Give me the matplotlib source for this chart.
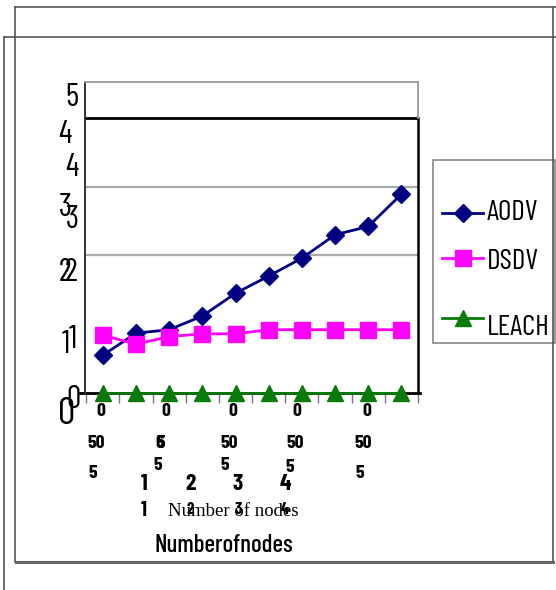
import numpy as np
import matplotlib
matplotlib.use("Agg")
import matplotlib.pyplot as plt
from matplotlib.lines import Line2D
from matplotlib.patches import Rectangle

# series (index of node count along x)
x_idx = [1, 2, 3, 4, 5, 6, 7, 8, 9, 10]
aodv = [0.55, 0.87, 0.92, 1.12, 1.45, 1.70, 1.96, 2.30, 2.42, 2.89]
dsdv = [0.84, 0.71, 0.82, 0.86, 0.86, 0.92, 0.92, 0.92, 0.92, 0.92]
leach = [0, 0, 0, 0, 0, 0, 0, 0, 0, 0]
series = ['AODV', 'DSDV', 'LEACH']

# tick labels as they appear (overprinted / garbled in the original)
ytick_txt = ['5', '4', '4', '3', '3', '2', '2', '1', '1', '0', '0']
xtick_row1 = ['0', '0', '0', '0', '0']
xtick_row2 = ['50', '6', '50', '50', '50']
xtick_row3 = ['5', '5', '5', '5', '5']
xtick_row4 = ['1', '2', '3', '4']

W, H = 556, 590
NARROW = 'Barlow Condensed'


def fx(px):
    return px / W


def fy(py):
    return 1 - py / H


fig = plt.figure(figsize=(W / 100, H / 100), dpi=100)

# outer frames
frame = dict(color='#555555', lw=1.2, transform=fig.transFigure)
fig.add_artist(Line2D([fx(15), fx(556)], [fy(7), fy(7)], **frame))
fig.add_artist(Line2D([fx(4), fx(556)], [fy(37), fy(37)], **frame))
fig.add_artist(Line2D([fx(15), fx(15)], [fy(7), fy(562)], **frame))
fig.add_artist(Line2D([fx(4), fx(4)], [fy(37), fy(590)], **frame))
fig.add_artist(Line2D([fx(553), fx(553)], [fy(7), fy(562)], **frame))
fig.add_artist(Line2D([fx(16), fx(553)], [fy(562), fy(562)], color='#666666', lw=2.2,
                      transform=fig.transFigure))

ax = fig.add_axes([fx(85), fy(393), fx(418) - fx(85), fy(82) - fy(393)])
ax.set_xlim(0.46, 10.5)
ax.set_ylim(0, 4.52)

for s in ['top', 'right', 'bottom', 'left']:
    ax.spines[s].set_visible(False)
ax.spines['top'].set_visible(True)
ax.spines['top'].set_color('#999999')
ax.spines['top'].set_linewidth(1.3)
ax.spines['left'].set_visible(True)
ax.spines['left'].set_color('#333333')
ax.spines['left'].set_linewidth(1.4)

ax.axhline(2, color='#aaaaaa', lw=1.6)
ax.axhline(3, color='#aaaaaa', lw=1.6)
ax.axhline(4, color='black', lw=2)
ax.axvline(10.5, ymin=0, ymax=4 / 4.52, color='black', lw=1.8, clip_on=False)
ax.axvline(10.5, ymin=4 / 4.52, ymax=1, color='#999999', lw=1.3, clip_on=False)
ax.axhline(0, xmin=-0.015, xmax=1.005, color='black', lw=2, clip_on=False)

ax.set_yticks([])
ax.set_xticks(np.arange(0.5, 11, 1))
ax.set_xticklabels([])
ax.tick_params(axis='x', direction='out', length=7, color='#777777', width=1)

styles = {
    'AODV': dict(color='#000080', marker='D', ms=9, lw=2),
    'DSDV': dict(color='#ff00ff', marker='s', ms=11, lw=2),
    'LEACH': dict(color='#0a7a0a', marker='^', ms=11, lw=2),
}
for name, vals in zip(series, [aodv, dsdv, leach]):
    ax.plot(x_idx, vals, clip_on=False, zorder=5, **styles[name])

# y tick labels (overprinted)
ypos = [(72, 98), (65, 135), (72, 168), (65, 208), (72, 220), (65, 273),
        (71, 273), (66, 345), (73, 340), (73, 400), (67, 415)]
for i, (t, (px, py)) in enumerate(zip(ytick_txt, ypos)):
    size = 28 if i == len(ytick_txt) - 1 else 23
    fig.text(fx(px), fy(py), t, family=NARROW, fontsize=size, ha='center', va='center')

# x tick label rows
bold = dict(family=NARROW, weight='bold', ha='center', va='center')
for t, px in zip(xtick_row1, [101, 166, 233, 297, 367]):
    fig.text(fx(px), fy(412), t, fontsize=14, **bold)
for t, px in zip(xtick_row2, [96, 160, 229, 295, 363]):
    fig.text(fx(px), fy(443), t, fontsize=14, **bold)
fig.text(fx(161), fy(443), '5', fontsize=14, **bold)
for t, (px, py) in zip(xtick_row3, [(93, 474), (158, 466), (225, 466), (290, 468), (360, 474)]):
    fig.text(fx(px), fy(py), t, fontsize=14, **bold)
for t, px in zip(xtick_row4, [144, 190, 238, 285]):
    fig.text(fx(px), fy(484), t, fontsize=17, **bold)
for t, px in zip(xtick_row4, [144, 190, 238, 285]):
    size = 15 if t == '1' else 12
    fig.text(fx(px), fy(510), t, fontsize=size, **bold)

fig.text(fx(233), fy(512), 'Number of nodes', family='Liberation Serif', fontsize=13.5,
         ha='center', va='center')
fig.text(fx(224), fy(545), 'Numberofnodes', family=NARROW, weight='medium', fontsize=18,
         ha='center', va='center')

# legend
fig.add_artist(Rectangle((fx(433), fy(343)), fx(555) - fx(433), fy(160) - fy(343),
                         transform=fig.transFigure, fill=False, edgecolor='#888888', lw=1.2))
for name, py, ty in zip(series, [213, 258, 318], [213, 262, 328]):
    st = styles[name]
    fig.add_artist(Line2D([fx(442), fx(483)], [fy(py), fy(py)], transform=fig.transFigure,
                          color=st['color'], lw=st['lw']))
    fig.add_artist(Line2D([fx(462.5)], [fy(py)], transform=fig.transFigure, linestyle='none',
                          color=st['color'], marker=st['marker'], ms=st['ms']))
    fig.text(fx(487), fy(ty), name, family=NARROW, fontsize=21, ha='left', va='center')

fig.savefig("out.png", dpi=100)
